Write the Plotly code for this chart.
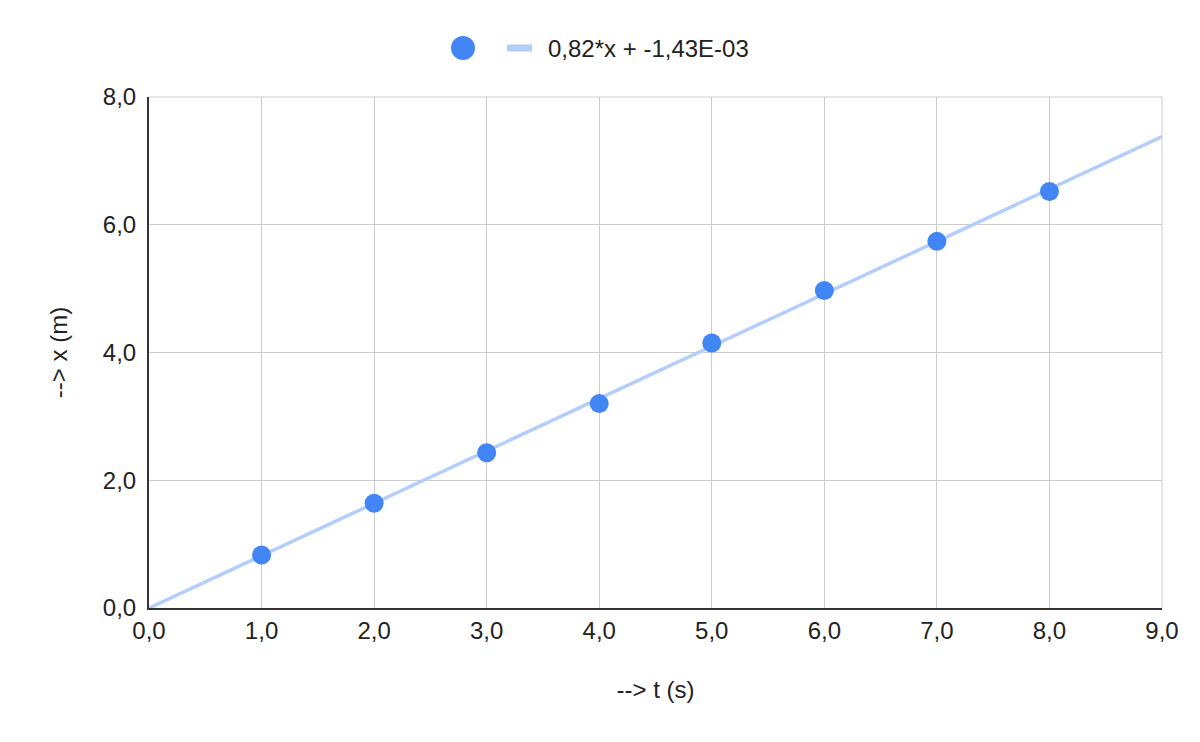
import plotly.graph_objects as go

t_values = [1, 2, 3, 4, 5, 6, 7, 8]
x_values = [0.83, 1.64, 2.43, 3.20, 4.15, 4.97, 5.74, 6.52]
trend_slope = 0.82
trend_intercept = -1.43e-03
trend_label = "0,82*x + -1,43E-03"
trend_t = [0, 9]
trend_x = [trend_slope * t + trend_intercept for t in trend_t]

DOT = "#4285f4"
TREND = "#b3cefb"
TXT = "#222222"
font = "Arial, Liberation Sans, sans-serif"

fig = go.Figure()
fig.add_trace(go.Scatter(
    x=trend_t, y=trend_x, mode="lines", name=trend_label, showlegend=False,
    line=dict(color=TREND, width=3.5),
))
fig.add_trace(go.Scatter(
    x=t_values, y=x_values, mode="markers", name=" ", showlegend=False,
    marker=dict(color=DOT, size=19),
))

L, R, T, B = 149, 38, 97, 134
W, H = 1200, 742
pw, ph = W - L - R, H - T - B

def px(xp):
    return (xp - L) / pw

def py(yp):
    return (H - B - yp) / ph

# legend (manual, to match glyph sizes)
leg_y = py(48)
fig.add_shape(type="circle", xref="paper", yref="paper",
              xsizemode="pixel", ysizemode="pixel",
              xanchor=px(463), yanchor=leg_y, x0=-12, x1=12, y0=-12, y1=12,
              fillcolor=DOT, line=dict(width=0))
fig.add_shape(type="line", xref="paper", yref="paper",
              xsizemode="pixel", ysizemode="pixel",
              xanchor=px(507), yanchor=leg_y, x0=0, x1=25, y0=0, y1=0,
              line=dict(color=TREND, width=7))
fig.add_annotation(text=trend_label, xref="paper", yref="paper",
                   x=px(546), y=leg_y, xanchor="left", yanchor="middle",
                   showarrow=False, font=dict(size=24, color=TXT, family=font))

fig.update_layout(
    width=W, height=H,
    margin=dict(l=L, r=R, t=T, b=B),
    plot_bgcolor="white", paper_bgcolor="white",
    separators=",.",
    font=dict(family=font, size=24, color=TXT),
    showlegend=False,
)
fig.update_xaxes(
    range=[0, 9], dtick=1, tickformat=".1f",
    showgrid=True, gridcolor="#cccccc", gridwidth=1,
    showline=True, linecolor="#333333", linewidth=2,
    zeroline=False, ticks="",
    title=dict(text="--> t (s)", font=dict(size=24), standoff=38),
    tickfont=dict(size=24),
)
fig.update_yaxes(
    range=[0, 8], dtick=2, tickformat=".1f",
    showgrid=True, gridcolor="#cccccc", gridwidth=1,
    showline=True, linecolor="#333333", linewidth=2,
    zeroline=False, ticks="", ticklabelstandoff=6,
    title=dict(text="--> x (m)", font=dict(size=24), standoff=28),
    tickfont=dict(size=24),
)
fig.add_shape(type="line", xref="paper", yref="paper", x0=1, x1=1, y0=0, y1=1,
              line=dict(color="#cccccc", width=1))
fig.add_shape(type="line", xref="paper", yref="paper", x0=0, x1=1, y0=1, y1=1,
              line=dict(color="#cccccc", width=1))

fig.write_html("out.html", config={"displayModeBar": False},
               post_script="document.body.style.margin='0';document.body.style.overflow='hidden';")
